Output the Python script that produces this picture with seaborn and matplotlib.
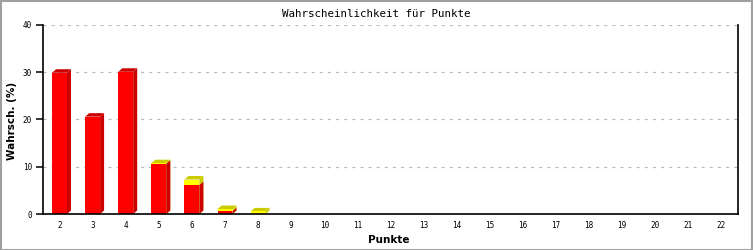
import matplotlib
matplotlib.use("Agg")
import matplotlib.pyplot as plt
from matplotlib.patches import Polygon, Rectangle
import seaborn as sns
import pandas as pd
import numpy as np

# ---- data ----
punkte = [str(p) for p in range(2, 23)]
rot = [29.9, 20.6, 30.1, 10.6, 6.1, 0.55, 0, 0, 0, 0, 0, 0, 0, 0, 0, 0, 0, 0, 0, 0, 0]
gelb = [0, 0, 0, 0.15, 1.2, 0.5, 0.55, 0, 0, 0, 0, 0, 0, 0, 0, 0, 0, 0, 0, 0, 0]
y_ticks = [0, 10, 20, 30, 40]

title = "Wahrscheinlichkeit für Punkte"
xlabel = "Punkte"
ylabel = "Wahrsch. (%)"

df = pd.DataFrame({"Punkte": punkte, "rot": rot, "gelb": gelb})
df["gesamt"] = df["rot"] + df["gelb"]

RED, RED_D = "#ff0000", "#cc0000"
YEL, YEL_D = "#ffff00", "#cccc00"

sns.set_theme(style="white")
plt.rcParams["font.family"] = ["DejaVu Sans"]

W, H, DPI = 753, 250, 100
fig = plt.figure(figsize=(W / DPI, H / DPI), dpi=DPI)
fig.patch.set_facecolor("white")
ax = fig.add_axes([43 / W, 36 / H, (738 - 43) / W, (214 - 25) / H])
ax.set_facecolor("white")

sns.barplot(data=df, x="Punkte", y="gesamt", color=YEL, saturation=1,
            width=0.45, ax=ax, linewidth=0, zorder=3)
sns.barplot(data=df, x="Punkte", y="rot", color=RED, saturation=1,
            width=0.45, ax=ax, linewidth=0, zorder=4)

ax.set_xlim(-0.5, len(punkte) - 0.5)
ax.set_ylim(0, 40)

# 3D depth offsets (pixels -> data units)
ax_w_px = (738 - 43)
ax_h_px = (214 - 25)
dx = 4 * (len(punkte)) / ax_w_px
dy = 3.5 * 40 / ax_h_px

tot_bars = ax.containers[0]
red_bars = ax.containers[1]
for i, (tb, rb) in enumerate(zip(tot_bars, red_bars)):
    h = tb.get_height()
    r = rb.get_height()
    if h <= 0:
        continue
    x0 = tb.get_x()
    x1 = x0 + tb.get_width()
    top_col = YEL_D if gelb[i] > 0 else RED_D
    side = Polygon([(x1, 0), (x1 + dx, dy), (x1 + dx, h + dy), (x1, h)],
                   closed=True, facecolor=top_col, edgecolor="none", zorder=2.5)
    cap = Polygon([(x0, h), (x0 + dx, h + dy), (x1 + dx, h + dy), (x1, h)],
                  closed=True, facecolor=top_col, edgecolor="none", zorder=2.5)
    ax.add_patch(side)
    ax.add_patch(cap)
    if r > 0 and gelb[i] > 0:
        rside = Polygon([(x1, 0), (x1 + dx, dy), (x1 + dx, r + dy), (x1, r)],
                        closed=True, facecolor=RED_D, edgecolor="none", zorder=2.6)
        ax.add_patch(rside)

# grid
ax.set_yticks(y_ticks)
for yv in y_ticks[1:]:
    ax.axhline(yv, color="#bbbbbb", lw=0.9, ls=(0, (2.5, 4)), zorder=1)

# spines
for s in ["left", "bottom", "right"]:
    ax.spines[s].set_visible(True)
    ax.spines[s].set_color("black")
    ax.spines[s].set_linewidth(1.2)
ax.spines["top"].set_visible(False)
ax.spines["bottom"].set_zorder(6)

ax.tick_params(axis="y", which="major", left=True, length=5, width=1.1,
               color="black", pad=3, labelsize=5.5, direction="out")
ax.tick_params(axis="x", which="major", bottom=False, length=0, pad=5,
               labelsize=5.5)
for lab in ax.get_xticklabels() + ax.get_yticklabels():
    lab.set_fontfamily("DejaVu Sans Mono")
    lab.set_color("black")

ax.set_xlabel("")
ax.set_ylabel("")
fig.text(389 / W, 1 - 240 / H, xlabel, ha="center", va="center",
         fontsize=7.5, fontweight="bold", color="black")
fig.text(12 / W, 1 - 121 / H, ylabel, ha="center", va="center", rotation=90,
         fontsize=7.5, fontweight="bold", color="black")
fig.text(0.5, 1 - 14 / H, title, ha="center", va="center",
         fontsize=7.8, family="DejaVu Sans Mono", color="black")

# grey frame around the image
fig.patches.append(Rectangle((0.5 / W, 0.5 / H), 1 - 1.5 / W, 1 - 1.5 / H,
                             transform=fig.transFigure, fill=False,
                             edgecolor="#a0a0a0", lw=1.5))

fig.savefig("out.png", dpi=DPI, facecolor="white")
